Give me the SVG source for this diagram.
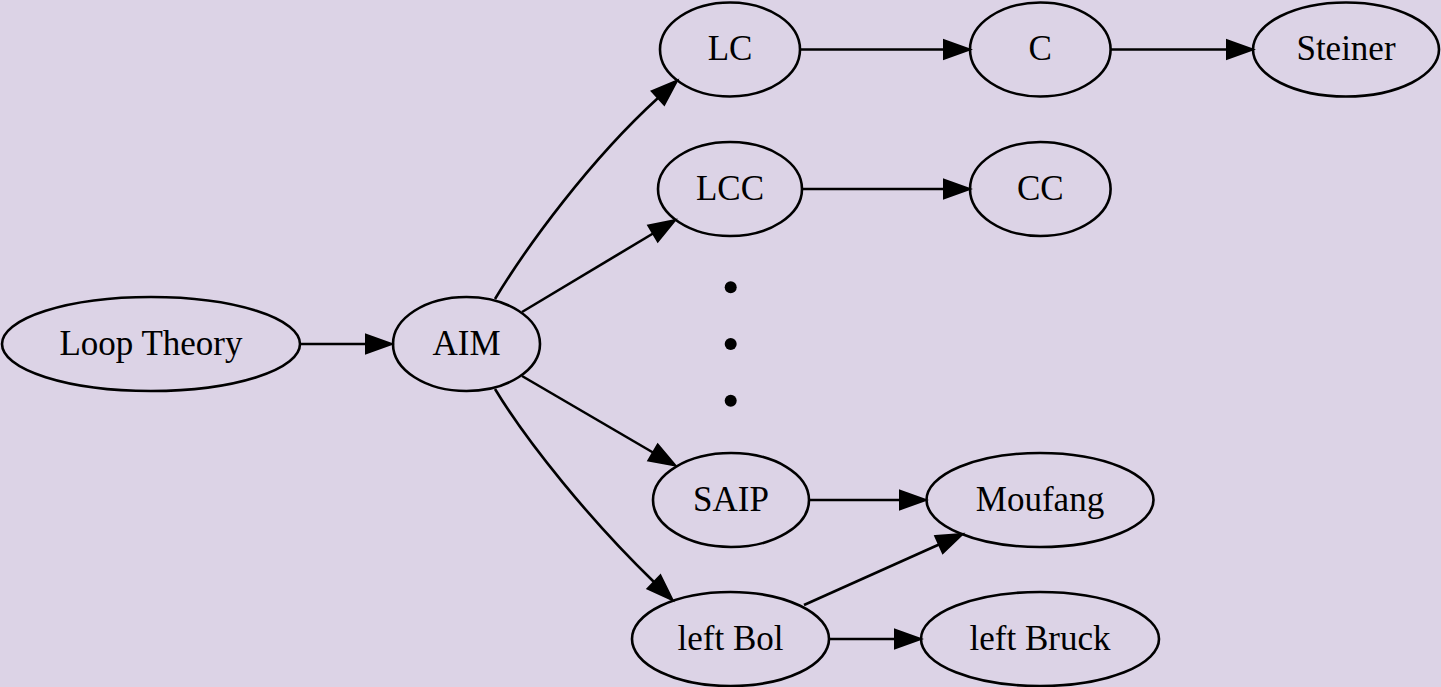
<svg xmlns="http://www.w3.org/2000/svg" width="1441" height="687" viewBox="0 0 1441 687">
<style>
.node ellipse{fill:none;stroke:#000;stroke-width:2.6}
.node text{font-family:"Liberation Serif","Times New Roman",serif;font-size:35px;text-anchor:middle;fill:#000}
.edge{fill:none;stroke:#000;stroke-width:2.6}
.dot{fill:#000}
</style>
<defs>
<marker id="arr" markerUnits="userSpaceOnUse" viewBox="0 0 26 20" markerWidth="26" markerHeight="20" refX="0" refY="10" orient="auto" overflow="visible">
<polygon points="0,0.7 26,10 0,19.3" fill="#000" stroke="#000" stroke-width="2" stroke-linejoin="miter"/>
</marker>
</defs>
<rect x="0" y="0" width="1441" height="687" fill="#dcd3e6"/>
<g id="edges">
<path class="edge" marker-end="url(#arr)" d="M300,344 L366,344"/>
<path class="edge" marker-end="url(#arr)" d="M495,299 C527,246 590,160 658,98"/>
<path class="edge" marker-end="url(#arr)" d="M522,312 L653,233.5"/>
<path class="edge" marker-end="url(#arr)" d="M522,376 L653,452.5"/>
<path class="edge" marker-end="url(#arr)" d="M495,389 C527,442 590,520 654,582"/>
<path class="edge" marker-end="url(#arr)" d="M800,49.5 L944,49.5"/>
<path class="edge" marker-end="url(#arr)" d="M1111,49.5 L1227,49.5"/>
<path class="edge" marker-end="url(#arr)" d="M802,189 L944,189"/>
<path class="edge" marker-end="url(#arr)" d="M809,500 L900,500"/>
<path class="edge" marker-end="url(#arr)" d="M804,605 L939,544.5"/>
<path class="edge" marker-end="url(#arr)" d="M829,639 L895,639"/>
</g>
<g id="loop_theory" class="node"><ellipse cx="151" cy="344" rx="149" ry="47"/><text x="151" y="354.5">Loop Theory</text></g>
<g id="aim" class="node"><ellipse cx="466.5" cy="344" rx="73.5" ry="47"/><text x="466.5" y="354.5">AIM</text></g>
<g id="lc" class="node"><ellipse cx="730" cy="49.5" rx="70" ry="47"/><text x="730" y="60">LC</text></g>
<g id="lcc" class="node"><ellipse cx="730" cy="189" rx="72" ry="47"/><text x="730" y="199.5">LCC</text></g>
<g id="c" class="node"><ellipse cx="1040.3" cy="49.5" rx="70.3" ry="47"/><text x="1040.3" y="60">C</text></g>
<g id="steiner" class="node"><ellipse cx="1346" cy="49.5" rx="93" ry="47"/><text x="1346" y="60">Steiner</text></g>
<g id="cc" class="node"><ellipse cx="1040.3" cy="189" rx="70.3" ry="47"/><text x="1040.3" y="199.5">CC</text></g>
<g id="saip" class="node"><ellipse cx="731" cy="500" rx="78" ry="47"/><text x="731" y="510.5">SAIP</text></g>
<g id="moufang" class="node"><ellipse cx="1040" cy="500" rx="113.5" ry="47"/><text x="1040" y="510.5">Moufang</text></g>
<g id="left_bol" class="node"><ellipse cx="730.5" cy="639" rx="98.5" ry="47"/><text x="730.5" y="649.5">left Bol</text></g>
<g id="left_bruck" class="node"><ellipse cx="1040" cy="639" rx="119" ry="47"/><text x="1040" y="649.5">left Bruck</text></g>
<g id="dots">
<circle class="dot" cx="730.7" cy="287.3" r="6"/>
<circle class="dot" cx="730.7" cy="344" r="6"/>
<circle class="dot" cx="730.7" cy="400.7" r="6"/>
</g>
</svg>
